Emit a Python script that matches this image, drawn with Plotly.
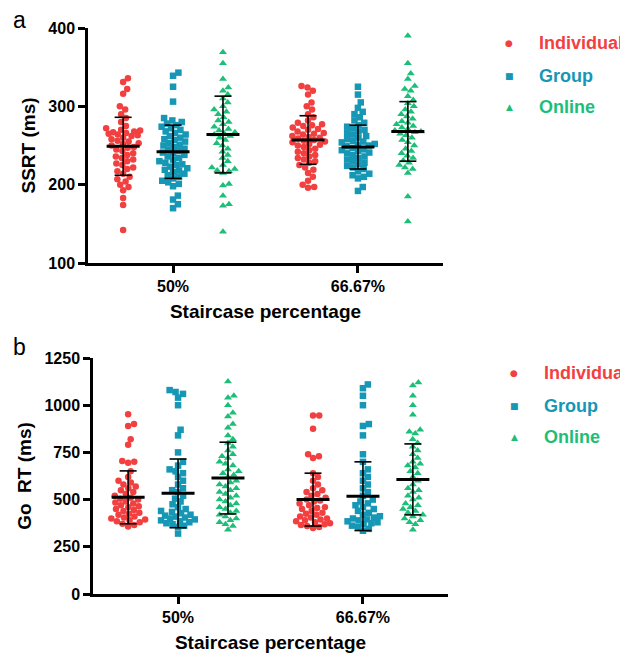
import math
import plotly.graph_objects as go

categories = ["50%", "66.67%"]
groups = ["Individual", "Group", "Online"]
colors = {"Individual": "#F23F3F", "Group": "#1597B5", "Online": "#1DBE78"}
symbols = {"Individual": "circle", "Group": "square", "Online": "triangle-up"}
glyphs = {"Individual": "●", "Group": "■", "Online": "▲"}

# ---- Panel a: SSRT (ms) ----
ssrt_individual_50 = [336, 331, 322, 316, 300, 296, 290, 285, 280, 275, 272, 270, 269, 268, 267, 266, 265,
                      264, 263, 262, 260, 258, 256, 255, 253, 252, 250, 248, 247, 245, 243, 240, 238, 236,
                      234, 232, 230, 227, 225, 222, 220, 217, 214, 210, 207, 204, 200, 197, 193, 183, 174, 142]
ssrt_group_50 = [343, 339, 325, 306, 285, 282, 280, 278, 276, 274, 272, 270, 268, 266, 264, 262, 260, 258,
                 257, 255, 253, 251, 250, 248, 246, 245, 243, 241, 240, 238, 236, 234, 232, 230, 228, 226,
                 225, 223, 221, 219, 218, 216, 214, 212, 210, 208, 205, 203, 201, 198, 186, 181, 175, 170]
ssrt_online_50 = [369, 355, 335, 324, 320, 315, 310, 305, 300, 296, 293, 290, 286, 282, 280, 277, 274, 271,
                  269, 267, 265, 264, 262, 260, 257, 253, 250, 246, 242, 238, 234, 230, 225, 222, 220, 218,
                  217, 215, 201, 199, 186, 175, 173, 140]
ssrt_individual_67 = [326, 324, 320, 315, 305, 300, 296, 290, 286, 282, 279, 277, 276, 275, 273, 271, 270,
                      268, 266, 265, 264, 262, 261, 260, 259, 257, 256, 255, 254, 252, 251, 250, 248, 246,
                      244, 242, 240, 238, 236, 234, 232, 230, 228, 225, 222, 219, 215, 210, 205, 200, 197, 196]
ssrt_group_67 = [325, 315, 305, 298, 293, 290, 286, 282, 279, 276, 274, 272, 270, 268, 266, 264, 262, 260,
                 258, 256, 255, 254, 252, 251, 250, 249, 247, 245, 244, 243, 241, 240, 238, 236, 234, 232,
                 230, 228, 226, 224, 222, 220, 217, 214, 212, 210, 208, 197, 192]
ssrt_online_67 = [390, 355, 342, 335, 326, 322, 320, 313, 308, 304, 300, 296, 293, 290, 287, 284, 281, 279,
                  277, 275, 273, 271, 269, 268, 267, 265, 263, 260, 257, 254, 250, 246, 243, 240, 237, 234,
                  231, 228, 225, 222, 220, 215, 185, 153]
ssrt_mean = {"Individual": [249, 257], "Group": [242, 248], "Online": [264, 268]}
ssrt_sd = {"Individual": [37, 31], "Group": [34, 28], "Online": [49, 38]}

# ---- Panel b: Go RT (ms) ----
rt_individual_50 = [952, 900, 890, 820, 790, 705, 700, 695, 650, 620, 600, 590, 580, 570, 560, 550, 540,
                    530, 520, 510, 505, 500, 490, 485, 480, 470, 465, 460, 450, 445, 440, 430, 425, 420,
                    410, 405, 400, 395, 390, 385, 380, 372, 365, 358]
rt_group_50 = [1080, 1070, 1060, 1040, 1000, 870, 840, 750, 700, 680, 660, 650, 640, 620, 600, 580, 560, 550,
               540, 520, 505, 490, 475, 460, 450, 440, 435, 428, 420, 415, 410, 405, 400, 395, 390, 385,
               380, 375, 370, 362, 355, 320]
rt_online_50 = [1125, 1050, 1040, 1000, 960, 940, 900, 880, 840, 820, 800, 780, 760, 740, 730, 720, 700, 690,
                680, 660, 650, 640, 630, 620, 600, 590, 580, 570, 560, 550, 540, 530, 520, 510, 500, 490, 480,
                470, 460, 450, 440, 430, 420, 410, 400, 390, 380, 370, 360, 340]
rt_individual_67 = [945, 945, 875, 740, 730, 720, 640, 620, 600, 580, 560, 550, 540, 530, 520, 510, 500, 495,
                    490, 480, 470, 460, 455, 450, 440, 430, 425, 420, 410, 405, 400, 395, 390, 385, 380, 375,
                    370, 365, 360, 355, 350]
rt_group_67 = [1110, 1090, 1050, 1000, 900, 890, 840, 740, 700, 660, 640, 620, 600, 580, 560, 540, 520, 500,
               490, 480, 470, 460, 450, 440, 430, 420, 412, 405, 400, 395, 390, 385, 380, 375, 370, 362,
               355, 345, 335]
rt_online_67 = [1120, 1105, 1050, 1000, 950, 870, 860, 850, 820, 800, 780, 760, 740, 720, 700, 690, 680, 670,
                650, 640, 620, 600, 580, 560, 550, 540, 520, 510, 500, 480, 470, 460, 450, 440, 430, 420, 410,
                400, 390, 380, 370, 340]
rt_mean = {"Individual": [512, 500], "Group": [533, 518], "Online": [614, 607]}
rt_sd = {"Individual": [140, 140], "Group": [182, 182], "Online": [190, 188]}

ssrt_data = {"Individual": [ssrt_individual_50, ssrt_individual_67],
             "Group": [ssrt_group_50, ssrt_group_67],
             "Online": [ssrt_online_50, ssrt_online_67]}
rt_data = {"Individual": [rt_individual_50, rt_individual_67],
           "Group": [rt_group_50, rt_group_67],
           "Online": [rt_online_50, rt_online_67]}

# the page body has an 8px margin: the figure is 620x652 and sits at (8, 8)
OFF = 8
W, H = 628 - OFF, 660 - OFF


def fx(px):
    return (px - OFF) / W


def fy(py):
    return 1 - (py - OFF) / H


PX_PER_X = 185.0          # pixels per category unit
GROUP_OFFSET = 0.27       # group offset from category center (x units)
DOT = 6.2                 # swarm spacing in px
MAXW = 17.0               # max half-width of a swarm in px


def swarm(values, px_per_y, d=DOT, maxw=MAXW):
    ys = [v * px_per_y for v in values]
    order = sorted(range(len(ys)), key=lambda i: ys[i])
    placed = []
    offs = [0.0] * len(ys)
    for i in order:
        y = ys[i]
        cands = [0.0]
        for (px, py) in placed:
            dy = abs(y - py)
            if dy < d:
                dx = math.sqrt(d * d - dy * dy)
                cands += [px + dx, px - dx]
        cands = [c for c in cands if abs(c) <= maxw]
        cands.sort(key=abs)
        chosen = None
        for c in cands:
            if all((c - px) ** 2 + (y - py) ** 2 >= d * d - 1e-6 for (px, py) in placed):
                chosen = c
                break
        if chosen is None:
            best, bestd = 0.0, -1.0
            steps = 35
            for k in range(steps):
                c = -maxw + 2 * maxw * k / (steps - 1)
                md = min(((c - px) ** 2 + (y - py) ** 2) for (px, py) in placed)
                if md > bestd + 1e-9:
                    best, bestd = c, md
            chosen = best
        offs[i] = chosen
        placed.append((chosen, y))
    return [o / PX_PER_X for o in offs]


fig = go.Figure()

panels = [
    dict(data=ssrt_data, mean=ssrt_mean, sd=ssrt_sd, xa="x", ya="y", yr=[100, 400],
         ydom=[fy(263), fy(28)]),
    dict(data=rt_data, mean=rt_mean, sd=rt_sd, xa="x2", ya="y2", yr=[0, 1250],
         ydom=[fy(594), fy(358)]),
]

for p in panels:
    px_per_y = (p["ydom"][1] - p["ydom"][0]) * H / (p["yr"][1] - p["yr"][0])
    for gi, g in enumerate(groups):
        xs, ys = [], []
        for ci in range(len(categories)):
            vals = p["data"][g][ci]
            center = ci + (gi - 1) * GROUP_OFFSET
            offs = swarm(vals, px_per_y)
            xs += [center + o for o in offs]
            ys += vals
        fig.add_trace(go.Scatter(
            x=xs, y=ys, mode="markers", xaxis=p["xa"], yaxis=p["ya"], name=g, showlegend=False,
            marker=dict(symbol=symbols[g], size=6.5 if g != "Online" else 7, color=colors[g],
                        line=dict(width=0)),
            cliponaxis=False))
    # mean and SD bars
    mx, my, sx, sy = [], [], [], []
    for gi, g in enumerate(groups):
        for ci in range(len(categories)):
            c = ci + (gi - 1) * GROUP_OFFSET
            m = p["mean"][g][ci]
            s = p["sd"][g][ci]
            hw = 16.5 / PX_PER_X
            cw = 8.5 / PX_PER_X
            mx += [c - hw, c + hw, None]
            my += [m, m, None]
            sx += [c, c, None, c - cw, c + cw, None, c - cw, c + cw, None]
            sy += [m - s, m + s, None, m - s, m - s, None, m + s, m + s, None]
    fig.add_trace(go.Scatter(x=sx, y=sy, mode="lines", xaxis=p["xa"], yaxis=p["ya"], showlegend=False,
                             line=dict(color="black", width=1.6), hoverinfo="skip", cliponaxis=False))
    fig.add_trace(go.Scatter(x=mx, y=my, mode="lines", xaxis=p["xa"], yaxis=p["ya"], showlegend=False,
                             line=dict(color="black", width=3), hoverinfo="skip", cliponaxis=False))

tickfont = dict(family="Liberation Sans", size=16, color="black")
titlefont = dict(family="Liberation Sans", size=19, color="black")

axis_common = dict(showline=True, linecolor="black", linewidth=2.5, ticks="outside", ticklen=7,
                   tickwidth=2.5, tickcolor="black", showgrid=False, zeroline=False, tickfont=tickfont,
                   automargin=False)

fig.update_layout(
    width=W, height=H, margin=dict(l=0, r=0, t=0, b=0, autoexpand=False),
    paper_bgcolor="white", plot_bgcolor="white",
    font=dict(family="Liberation Sans", color="black"),
    xaxis=dict(domain=[fx(88), fx(443)], range=[-0.46, 1.46], tickvals=[0, 1],
               ticktext=["<b>%s</b>" % c for c in categories], anchor="y",
               title=dict(text="<b>Staircase percentage</b>", font=titlefont, standoff=11), **axis_common),
    yaxis=dict(domain=panels[0]["ydom"], range=[100, 400], tickvals=[100, 200, 300, 400],
               ticktext=["<b>%d</b>" % v for v in [100, 200, 300, 400]], anchor="x",
               title=dict(text="<b>SSRT (ms)</b>", font=titlefont, standoff=8), **axis_common),
    xaxis2=dict(domain=[fx(93), fx(448)], range=[-0.46, 1.46], tickvals=[0, 1],
                ticktext=["<b>%s</b>" % c for c in categories], anchor="y2",
                title=dict(text="<b>Staircase percentage</b>", font=titlefont, standoff=11), **axis_common),
    yaxis2=dict(domain=panels[1]["ydom"], range=[0, 1250], tickvals=[0, 250, 500, 750, 1000, 1250],
                ticktext=["<b>%d</b>" % v for v in [0, 250, 500, 750, 1000, 1250]], anchor="x2",
                title=dict(text="<b>Go\u00a0 RT (ms)</b>", font=titlefont, standoff=8), **axis_common),
    showlegend=False,
)

annotations = [
    dict(text="a", x=fx(11), y=fy(20), xref="paper", yref="paper", xanchor="left", yanchor="middle",
         showarrow=False, font=dict(family="Liberation Sans", size=23, color="black")),
    dict(text="b", x=fx(11), y=fy(347), xref="paper", yref="paper", xanchor="left", yanchor="middle",
         showarrow=False, font=dict(family="Liberation Sans", size=23, color="black")),
]
legend_pos = [(509, 537, [43, 76, 107]), (514, 542, [373, 406, 437])]
for mx_, tx_, ys_ in legend_pos:
    for g, yy in zip(groups, ys_):
        annotations.append(dict(text=glyphs[g], x=fx(mx_), y=fy(yy), xref="paper", yref="paper",
                                xanchor="center", yanchor="middle", showarrow=False,
                                font=dict(family="DejaVu Sans", size=9, color=colors[g])))
        annotations.append(dict(text="<b>%s</b>" % g, x=fx(tx_), y=fy(yy), xref="paper", yref="paper",
                                xanchor="left", yanchor="middle", showarrow=False,
                                font=dict(family="Liberation Sans", size=18, color=colors[g])))
fig.update_layout(annotations=annotations)

fig.write_html("out.html")
